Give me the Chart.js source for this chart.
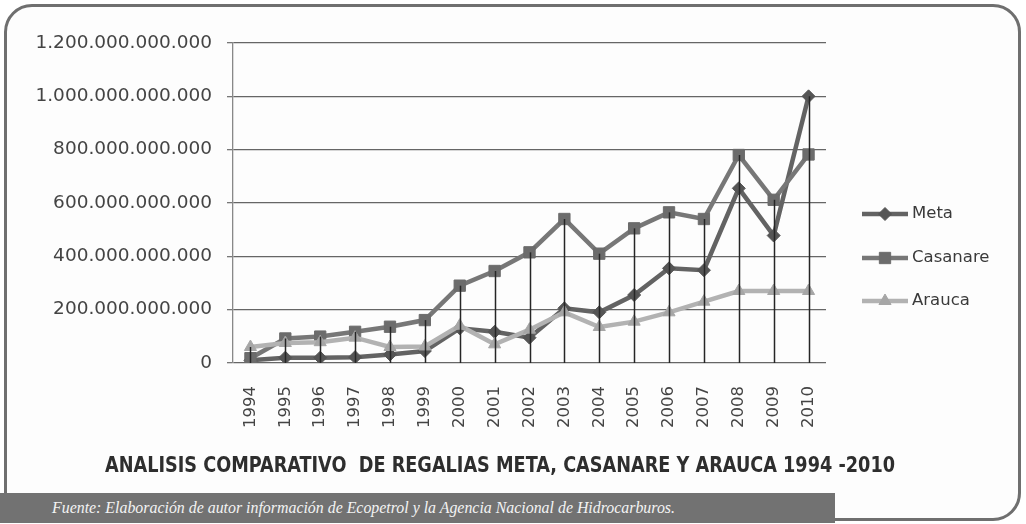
<!DOCTYPE html>
<html>
<head>
<meta charset="utf-8">
<script src="https://cdn.jsdelivr.net/npm/chart.js@4.4.1/dist/chart.umd.min.js"></script>
<style>
  html, body { margin: 0; padding: 0; background: #fff; }
  #wrap { position: relative; width: 1026px; height: 524px; overflow: hidden; background: #fff; }
  #frame { position: absolute; left: 4px; top: 4px; width: 1011px; height: 511px;
           border: 3.5px solid #6f6f6f; border-radius: 28px; background: #fdfdfd; }
  #c { position: absolute; left: 0; top: 0; }
  .fit { position: absolute; white-space: nowrap; transform-origin: 0 50%; }
  #title { left: 105px; top: 452px; font: bold 22px "Liberation Sans Narrow", "DejaVu Sans Condensed", sans-serif; color: #2e2e2e; }
  #foot { position: absolute; left: 0; top: 493px; width: 835px; height: 30px; background: #727272; }
  #footText { left: 52px; top: 498px; font: italic 16.5px "Liberation Serif", "DejaVu Serif", serif; color: #f4f4f4; }
  #legend { position: absolute; left: 862px; top: 203px; font: 16.5px "DejaVu Sans", sans-serif; color: #3a3a3a; }
  #legend div { height: 43.5px; display: flex; align-items: flex-start; }
  #legend canvas { margin-right: 4px; margin-top: 2px; }
</style>
</head>
<body>
<div id="wrap">
  <div id="frame"></div>
  <canvas id="c" width="1026" height="524"></canvas>
  <div id="legend"></div>
  <div id="foot"></div>
  <div id="title" class="fit" data-w="790">ANALISIS COMPARATIVO&nbsp; DE REGALIAS META, CASANARE Y ARAUCA 1994 -2010</div>
  <div id="footText" class="fit" data-w="623">Fuente: Elaboración de autor información de Ecopetrol y la Agencia Nacional de Hidrocarburos.</div>
</div>
<script>
// data (pesos)
const years = ['1994','1995','1996','1997','1998','1999','2000','2001','2002',
               '2003','2004','2005','2006','2007','2008','2009','2010'];
const meta = [10e9, 20e9, 20e9, 22e9, 32e9, 45e9, 130e9, 117e9, 95e9,
              205e9, 190e9, 255e9, 355e9, 348e9, 655e9, 478e9, 1000e9];
const casanare = [18e9, 92e9, 99e9, 117e9, 136e9, 161e9, 290e9, 345e9, 415e9,
                  540e9, 410e9, 505e9, 565e9, 540e9, 780e9, 612e9, 782e9];
const arauca = [60e9, 75e9, 78e9, 95e9, 60e9, 62e9, 140e9, 70e9, 125e9,
                190e9, 135e9, 155e9, 190e9, 230e9, 270e9, 270e9, 270e9];
const yTickLabels = ['0', '200.000.000.000', '400.000.000.000', '600.000.000.000',
                     '800.000.000.000', '1.000.000.000.000', '1.200.000.000.000'];

const series = [
  { label: 'Meta', data: meta, color: '#636363', point: '#555', style: 'rectRot', r: 6.5, order: 2 },
  { label: 'Casanare', data: casanare, color: '#777', point: '#6c6c6c', style: 'rect', r: 8, order: 1 },
  { label: 'Arauca', data: arauca, color: '#b2b2b2', point: '#a6a6a6', style: 'triangle', r: 7, order: 0 }
];

// 1) Drop lines from the highest point to the axis
const dropLines = {
  id: 'dropLines',
  afterDatasetsDraw(chart) {
    const { ctx, scales: { x, y } } = chart;
    ctx.save();
    ctx.strokeStyle = '#262626';
    ctx.lineWidth = 1.5;
    years.forEach((yr, i) => {
      const top = Math.max(meta[i], casanare[i], arauca[i]);
      const px = Math.round(x.getPixelForValue(i)) + 0.5;
      ctx.beginPath();
      ctx.moveTo(px, y.getPixelForValue(top));
      ctx.lineTo(px, y.getPixelForValue(0));
      ctx.stroke();
    });
    ctx.restore();
  }
};

// 2) Chart
new Chart(document.getElementById('c'), {
  type: 'line',
  data: {
    labels: years,
    datasets: series.map(s => ({
      label: s.label,
      data: s.data,
      order: s.order,
      borderColor: s.color,
      borderWidth: 4.5,
      pointStyle: s.style,
      pointRadius: s.r,
      pointBackgroundColor: s.point,
      pointBorderColor: s.point,
      pointBorderWidth: 1,
      tension: 0,
      fill: false
    }))
  },
  options: {
    responsive: false,
    animation: false,
    devicePixelRatio: 1,
    layout: { padding: { left: 15, right: 200, top: 43, bottom: 91 } },
    plugins: { legend: { display: false }, tooltip: { enabled: false } },
    scales: {
      x: {
        offset: true,
        grid: { display: false },
        border: { display: false },
        ticks: { minRotation: 90, maxRotation: 90, padding: 15, color: '#444',
                 font: { family: 'DejaVu Sans', size: 16.5 } },
        afterFit: s => { s.height = 70; }
      },
      y: {
        min: 0, max: 1.2e12,
        ticks: { stepSize: 2e11, padding: 15, color: '#444',
                 font: { family: 'DejaVu Sans', size: 18.5 },
                 callback: (v, i) => yTickLabels[i] },
        grid: { color: '#666', lineWidth: 1.3, tickLength: 6, tickColor: '#777' },
        border: { display: true, color: '#888', width: 1.3 },
        afterFit: s => { s.width = 218; }
      }
    }
  },
  plugins: [dropLines]
});

// 3) Legend samples
const legend = document.getElementById('legend');
series.forEach(s => {
  const row = document.createElement('div');
  const cv = document.createElement('canvas');
  cv.width = 46; cv.height = 18;
  const g = cv.getContext('2d');
  g.strokeStyle = s.color; g.lineWidth = 4.5;
  g.beginPath(); g.moveTo(0, 9); g.lineTo(46, 9); g.stroke();
  g.fillStyle = s.point; g.strokeStyle = s.point; g.lineWidth = 1;
  Chart.helpers.drawPoint(g, { pointStyle: s.style, radius: s.r, borderWidth: 1 }, 23, 9);
  row.appendChild(cv);
  const t = document.createElement('span');
  t.textContent = s.label;
  row.appendChild(t);
  legend.appendChild(row);
});

// 4) Stretch title/source text to their widths
document.querySelectorAll('.fit').forEach(el => {
  const w = el.getBoundingClientRect().width;
  el.style.transform = 'scaleX(' + (el.dataset.w / w) + ')';
});
</script>
</body>
</html>
